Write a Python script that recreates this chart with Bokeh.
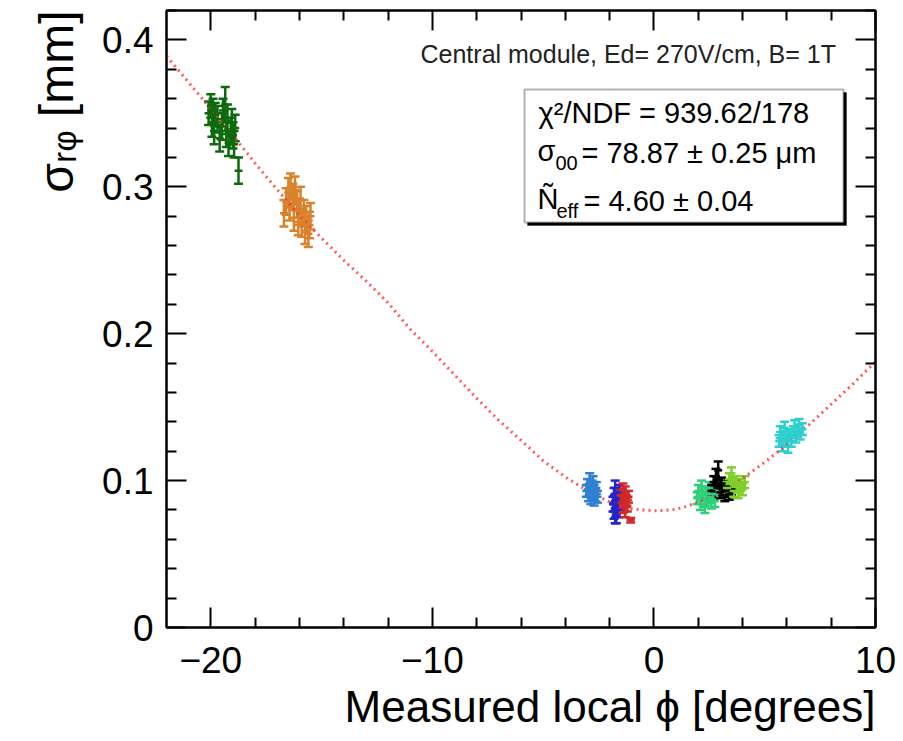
import numpy as np
from bokeh.plotting import figure
from bokeh.models import (ColumnDataSource, Whisker, TeeHead, LinearAxis, FixedTicker,
                          Range1d, Label, BoxAnnotation, CustomJSTickFormatter, Title)
from bokeh.embed import file_html
from bokeh.resources import INLINE

# ---------------- data ----------------
green_x = [-20.1, -20.0, -19.95, -19.9, -19.85, -19.8, -19.7, -19.6, -19.5, -19.45, -19.35,
           -19.3, -19.25, -19.2, -19.1, -19.05, -19.0, -18.95, -18.9, -18.75]
green_y = [0.350, 0.355, 0.343, 0.352, 0.338, 0.349, 0.346, 0.333, 0.341, 0.352, 0.356,
           0.336, 0.347, 0.330, 0.338, 0.344, 0.335, 0.329, 0.340, 0.311]
green_e = [0.008, 0.008, 0.009, 0.008, 0.009, 0.008, 0.009, 0.009, 0.009, 0.008, 0.012,
           0.009, 0.009, 0.009, 0.009, 0.009, 0.009, 0.009, 0.009, 0.009]

orange_x = [-16.7, -16.6, -16.5, -16.45, -16.4, -16.3, -16.25, -16.2, -16.1, -16.05,
            -16.0, -15.95, -15.9, -15.8, -15.75, -15.7, -15.6, -15.55, -15.5]
orange_y = [0.282, 0.290, 0.296, 0.286, 0.300, 0.293, 0.279, 0.298, 0.288, 0.276,
            0.283, 0.291, 0.275, 0.282, 0.270, 0.278, 0.268, 0.274, 0.280]
orange_e = [0.009, 0.009, 0.010, 0.009, 0.009, 0.009, 0.009, 0.009, 0.009, 0.009,
            0.009, 0.009, 0.009, 0.009, 0.009, 0.009, 0.009, 0.009, 0.009]

ltblue_x = [-3.05, -3.0, -2.95, -2.9, -2.9, -2.85, -2.8, -2.8, -2.75, -2.7, -2.7, -2.65, -2.6, -2.55]
ltblue_y = [0.093, 0.097, 0.090, 0.101, 0.094, 0.088, 0.096, 0.091, 0.099, 0.087, 0.093, 0.090, 0.095, 0.089]
ltblue_e = [0.004] * 14

blue_x = [-1.85, -1.8, -1.8, -1.75, -1.75, -1.7, -1.7, -1.65, -1.6, -1.55, -1.5, -1.75]
blue_y = [0.084, 0.090, 0.079, 0.095, 0.086, 0.082, 0.076, 0.088, 0.080, 0.092, 0.085, 0.075]
blue_e = [0.005] * 11 + [0.004]

red_x = [-1.5, -1.45, -1.4, -1.4, -1.35, -1.3, -1.3, -1.25, -1.2, -1.15, -1.05]
red_y = [0.090, 0.085, 0.094, 0.082, 0.088, 0.092, 0.079, 0.086, 0.083, 0.089, 0.073]
red_e = [0.004, 0.004, 0.004, 0.004, 0.004, 0.004, 0.004, 0.004, 0.004, 0.004, 0.0015]

mgreen_x = [1.95, 2.0, 2.1, 2.15, 2.2, 2.3, 2.35, 2.4, 2.5, 2.55, 2.6, 2.7, 2.75, 2.85]
mgreen_y = [0.088, 0.093, 0.084, 0.096, 0.090, 0.082, 0.092, 0.087, 0.095, 0.089, 0.085, 0.091, 0.086, 0.093]
mgreen_e = [0.004] * 14

black_x = [2.6, 2.7, 2.8, 2.85, 2.9, 3.0, 3.05, 3.1, 3.2, 3.25, 3.3, 3.4, 3.5]
black_y = [0.093, 0.099, 0.103, 0.096, 0.107, 0.092, 0.098, 0.094, 0.090, 0.096, 0.093, 0.091, 0.094]
black_e = [0.004, 0.004, 0.005, 0.004, 0.006, 0.004, 0.004, 0.004, 0.004, 0.004, 0.004, 0.004, 0.004]

lgreen_x = [3.3, 3.4, 3.5, 3.55, 3.6, 3.7, 3.75, 3.8, 3.9, 4.0, 4.1]
lgreen_y = [0.095, 0.101, 0.105, 0.098, 0.093, 0.099, 0.096, 0.092, 0.097, 0.094, 0.099]
lgreen_e = [0.004] * 11

cyan_x = [5.65, 5.7, 5.8, 5.85, 5.9, 6.0, 6.05, 6.1, 6.2, 6.3, 6.35, 6.4, 6.5, 6.55, 6.6, 6.7]
cyan_y = [0.127, 0.133, 0.124, 0.130, 0.136, 0.128, 0.123, 0.131, 0.127, 0.133, 0.137, 0.130,
          0.134, 0.138, 0.132, 0.135]
cyan_e = [0.004] * 16

fit_x = [-22, -21, -20, -19, -18, -17, -16, -15, -14, -13, -12, -11, -10, -9, -8, -7, -6, -5,
         -4, -3, -2.5, -2, -1.5, -1, -0.5, 0, 0.5, 1, 1.5, 2, 2.5, 3, 4, 5, 6, 7, 8, 9, 10]
fit_y = [0.389, 0.371, 0.353, 0.335, 0.316, 0.298, 0.2805, 0.265, 0.250, 0.236, 0.221, 0.203,
         0.188, 0.172, 0.156, 0.141, 0.1275, 0.1135, 0.1025, 0.093, 0.089, 0.0855, 0.083, 0.081,
         0.0800, 0.0795, 0.0797, 0.0805, 0.0825, 0.0855, 0.0885, 0.092, 0.1015, 0.1125, 0.1245,
         0.138, 0.152, 0.166, 0.181]

x_ticks = [-20, -10, 0, 10]
x_minor = [-18, -16, -14, -12, -8, -6, -4, -2, 2, 4, 6, 8]
x_labels = {-20: "\u221220", -10: "\u221210", 0: "0", 10: "10"}
y_ticks = [0, 0.1, 0.2, 0.3, 0.4]
y_minor = [0.02, 0.04, 0.06, 0.08, 0.12, 0.14, 0.16, 0.18, 0.22, 0.24, 0.26, 0.28,
           0.32, 0.34, 0.36, 0.38, 0.42]
y_labels = {0: "0", 0.1: "0.1", 0.2: "0.2", 0.3: "0.3", 0.4: "0.4"}

series = [
    (green_x, green_y, green_e, "#0c6a0c"),
    (orange_x, orange_y, orange_e, "#d8832c"),
    (ltblue_x, ltblue_y, ltblue_e, "#2f80d2"),
    (blue_x, blue_y, blue_e, "#2424c8"),
    (red_x, red_y, red_e, "#d22828"),
    (mgreen_x, mgreen_y, mgreen_e, "#2fcf7a"),
    (black_x, black_y, black_e, "#000000"),
    (lgreen_x, lgreen_y, lgreen_e, "#7fcf2a"),
    (cyan_x, cyan_y, cyan_e, "#2fcfcf"),
]

# ---------------- layout ----------------
W, H = 903, 741
FL, FT, FR, FB = 166, 10, 875, 627
FONT = "Liberation Sans"

def sx(X):
    return X - FL

def sy(Y):
    return FB - Y

p = figure(width=W, height=H, output_backend="svg", toolbar_location=None,
           x_range=Range1d(-22.0, 10.0), y_range=Range1d(0.0, 0.42),
           min_border_left=FL, min_border_right=W - FR, min_border_top=FT,
           min_border_bottom=H - FB)
p.grid.visible = False
p.outline_line_color = "black"
p.outline_line_width = 2
p.background_fill_color = "white"
p.border_fill_color = "white"

def style(ax, ticks, minor, overrides, size):
    ax.ticker = FixedTicker(ticks=ticks, minor_ticks=minor)
    ax.axis_line_width = 2
    ax.axis_line_color = "black"
    ax.major_tick_in = 20
    ax.major_tick_out = 0
    ax.minor_tick_in = 10
    ax.minor_tick_out = 0
    ax.major_tick_line_width = 2
    ax.minor_tick_line_width = 2
    ax.major_label_text_font = FONT
    ax.major_label_text_font_size = size
    ax.major_label_text_color = "black"
    if overrides is not None:
        ax.major_label_overrides = overrides

style(p.xaxis[0], x_ticks, x_minor, x_labels, "37px")
p.xaxis[0].major_label_standoff = 19
style(p.yaxis[0], y_ticks, y_minor, y_labels, "37px")
p.yaxis[0].major_label_standoff = 13

blank = CustomJSTickFormatter(code="return ''")
top = LinearAxis(formatter=blank)
style(top, x_ticks, x_minor, None, "1px")
top.major_label_standoff = 0
p.add_layout(top, "above")
right = LinearAxis(formatter=blank)
style(right, y_ticks, y_minor, None, "1px")
right.major_label_standoff = 0
p.add_layout(right, "right")

# axis titles (ROOT style: right-aligned)
xt = Title(text="Measured local \u03d5 [degrees]", align="right", text_font=FONT,
           text_font_size="44px", text_font_style="normal", text_color="black", standoff=8)
p.add_layout(xt, "below")
yt = Title(text="\u03c3\u1d63\u1d69 [mm]", align="right", text_font=FONT,
           text_font_size="48px", text_font_style="normal", text_color="black", standoff=34)
p.add_layout(yt, "left")

# fit curve
p.line(fit_x, fit_y, line_color="#ff3030", line_width=3, line_alpha=0.8, line_dash="2 4")

# data points with error bars
for xs, ys, es, col in series:
    xa, ya, ea = np.array(xs), np.array(ys), np.array(es)
    src = ColumnDataSource(dict(x=xa, y=ya, lo=ya - ea, hi=ya + ea))
    w = Whisker(base="x", lower="lo", upper="hi", source=src, dimension="height",
                line_color=col, line_width=2.5,
                lower_head=TeeHead(size=9, line_color=col, line_width=2.5),
                upper_head=TeeHead(size=9, line_color=col, line_width=2.5))
    p.add_layout(w)
    p.scatter("x", "y", source=src, marker="dash", size=8, line_color=col, line_width=2.5)

# header text
p.add_layout(Label(x=sx(420), y=sy(53), x_units="screen", y_units="screen",
                   text="Central module, Ed= 270V/cm, B= 1T", text_font=FONT,
                   text_font_size="25px", text_color="#222222", text_baseline="middle",
                   text_align="left"))

# stats box
p.add_layout(BoxAnnotation(left=sx(527), right=sx(846), top=sy(92), bottom=sy(225),
                           left_units="screen", right_units="screen", top_units="screen",
                           bottom_units="screen", fill_color="black", fill_alpha=1,
                           line_color="black", line_width=1, level="overlay"))
p.add_layout(BoxAnnotation(left=sx(524), right=sx(843), top=sy(89), bottom=sy(222),
                           left_units="screen", right_units="screen", top_units="screen",
                           bottom_units="screen", fill_color="white", fill_alpha=1,
                           line_color="black", line_width=2, level="overlay"))

def lab(X, Y, text, size, align="left", baseline="middle"):
    p.add_layout(Label(x=sx(X), y=sy(Y), x_units="screen", y_units="screen", text=text,
                       text_font=FONT, text_font_size=size, text_color="black",
                       text_align=align, text_baseline=baseline, level="overlay"))

lab(538, 112, "\u03c7\u00b2/NDF = 939.62/178", "29px")
lab(537, 150, "\u03c3", "29px")
lab(555, 162, "00", "20px")
lab(581, 152, "= 78.87 \u00b1 0.25 \u03bcm", "29px")
lab(537, 198, "\u00d1", "29px")
lab(556, 210, "eff", "20px")
lab(583, 200, "= 4.60 \u00b1 0.04", "29px")

open("out.html", "w").write(file_html(p, INLINE))
